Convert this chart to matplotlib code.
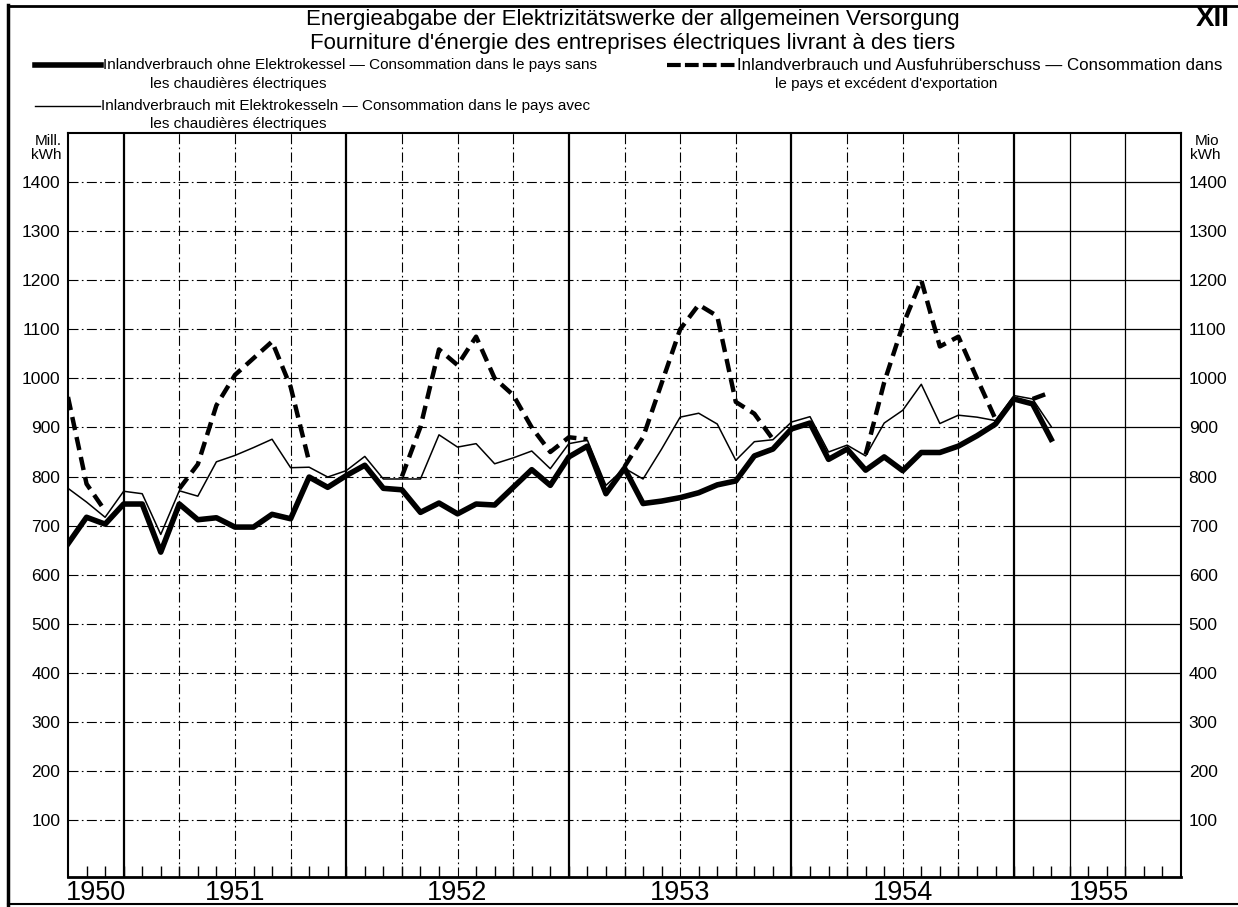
import numpy as np
import matplotlib.pyplot as plt
from matplotlib import font_manager
from matplotlib.lines import Line2D

# monthly values in Mill. kWh, month 0 = October 1950
months = np.arange(54)
ohne_kessel = [663, 717, 703, 744, 744, 646, 744, 712, 716, 697,
               697, 723, 714, 799, 778, 802, 823, 776, 773, 727,
               746, 724, 744, 742, 778, 814, 782, 840, 862, 765,
               817, 745, 750, 757, 767, 783, 791, 842, 856, 897,
               909, 835, 856, 813, 840, 812, 849, 849, 862, 883,
               907, 958, 948, 876]
mit_kessel = [776, 748, 717, 770, 765, 682, 771, 760, 830, 843,
              859, 876, 818, 819, 799, 812, 841, 795, 795, 795,
              885, 860, 867, 826, 838, 852, 816, 867, 874, 782,
              817, 795, 856, 921, 929, 907, 833, 871, 875, 911,
              922, 850, 864, 842, 909, 935, 988, 908, 925, 921,
              914, 965, 958, 902]
nan = np.nan
# only drawn where it differs from the thin line
mit_export = [962, 785, 730, nan, nan, nan, 775, 825, 945, 1007,
              1041, 1075, 983, 830, nan, nan, nan, nan, 800, 901,
              1059, 1027, 1085, 1000, 966, 900, 850, 880, 876, nan,
              820, 880, 990, 1100, 1150, 1127, 952, 928, 876, nan,
              nan, nan, nan, 845, 992, 1108, 1200, 1065, 1085, 1000,
              917, nan, 958, 972]

year_labels = ['1950', '1951', '1952', '1953', '1954', '1955']
year_pos = [1.5, 9, 21, 33, 45, 55.6]
y_ticks = list(range(100, 1500, 100))

names = {f.name for f in font_manager.fontManager.ttflist}
fam = 'Liberation Sans Narrow' if 'Liberation Sans Narrow' in names else 'Liberation Sans'
plt.rcParams['font.family'] = [fam, 'DejaVu Sans']

W, H = 1238, 907
fig = plt.figure(figsize=(W / 100, H / 100), dpi=100)


def fx(x):
    return x / W


def fy(y):
    return 1 - y / H


ax = fig.add_axes([fx(68), fy(877), (1181 - 68) / W, (877 - 133) / H])
ax.set_xlim(0, 60)
ax.set_ylim(-16, 1500)

dashdot = (0, (9, 3, 1.5, 3))
# grid: dash-dot up to 1955, solid after
for v in y_ticks:
    ax.plot([0, 51], [v, v], color='black', lw=0.8, ls=dashdot)
    ax.plot([51, 60], [v, v], color='black', lw=0.9)
for m in range(3, 60, 3):
    if (m - 3) % 12 == 0:
        ax.axvline(m, color='black', lw=1.6)
    elif m > 51:
        ax.axvline(m, color='black', lw=0.9)
    else:
        ax.axvline(m, color='black', lw=0.8, ls=dashdot)

ax.plot(months, mit_kessel, color='black', lw=1.1)
ax.plot(months, ohne_kessel, color='black', lw=4)
ax.plot(months, mit_export, color='black', lw=3.2, dashes=(3, 1.6))

ax.set_yticks(y_ticks)
ax.set_yticklabels([str(v) for v in y_ticks])
ax.tick_params(axis='y', left=False, right=False, labelleft=True,
               labelright=True, labelsize=12.5, pad=2)
ax.set_xticks(year_pos)
ax.set_xticklabels(year_labels, fontsize=19.5)
ax.tick_params(axis='x', which='major', length=0, pad=2)
ax.set_xticks(range(1, 60), minor=True)
ax.tick_params(axis='x', which='minor', direction='in', length=8, width=1)
for s in ax.spines.values():
    s.set_linewidth(1.5)
ax.spines['bottom'].set_linewidth(2)

# titles
fig.text(fx(633), fy(25), 'Energieabgabe der Elektrizitätswerke der allgemeinen Versorgung',
         ha='center', va='baseline', fontsize=16)
fig.text(fx(633), fy(49), "Fourniture d'énergie des entreprises électriques livrant à des tiers",
         ha='center', va='baseline', fontsize=16)
fig.text(fx(1213), fy(19), 'XII', ha='center', va='center', fontsize=20, weight='bold')

# legend
fig.add_artist(Line2D([fx(35), fx(101)], [fy(65), fy(65)], color='black', lw=4))
fig.text(fx(103), fy(65), 'Inlandverbrauch ohne Elektrokessel — Consommation dans le pays sans',
         va='center', fontsize=11)
fig.text(fx(150), fy(84), 'les chaudières électriques', va='center', fontsize=11)
fig.add_artist(Line2D([fx(667), fx(735)], [fy(65), fy(65)], color='black', lw=3,
                      dashes=(3.3, 1)))
fig.text(fx(737), fy(65), 'Inlandverbrauch und Ausfuhrüberschuss — Consommation dans',
         va='center', fontsize=12.2)
fig.text(fx(775), fy(84), "le pays et excédent d'exportation", va='center', fontsize=11)
fig.add_artist(Line2D([fx(35), fx(100)], [fy(106), fy(106)], color='black', lw=1))
fig.text(fx(101), fy(106), 'Inlandverbrauch mit Elektrokesseln — Consommation dans le pays avec',
         va='center', fontsize=11)
fig.text(fx(150), fy(124), 'les chaudières électriques', va='center', fontsize=11)

# units
fig.text(fx(62), fy(141), 'Mill.', ha='right', va='center', fontsize=11)
fig.text(fx(62), fy(155), 'kWh', ha='right', va='center', fontsize=11)
fig.text(fx(1195), fy(141), 'Mio', ha='left', va='center', fontsize=11)
fig.text(fx(1190), fy(155), 'kWh', ha='left', va='center', fontsize=11)

# page frame
fig.add_artist(Line2D([fx(8), fx(8)], [fy(5), fy(905)], color='black', lw=2.5))
fig.add_artist(Line2D([fx(8), 1], [fy(6), fy(6)], color='black', lw=2))
fig.add_artist(Line2D([fx(8), 1], [fy(904), fy(904)], color='black', lw=1.5))

fig.savefig('out.png', dpi=100)
